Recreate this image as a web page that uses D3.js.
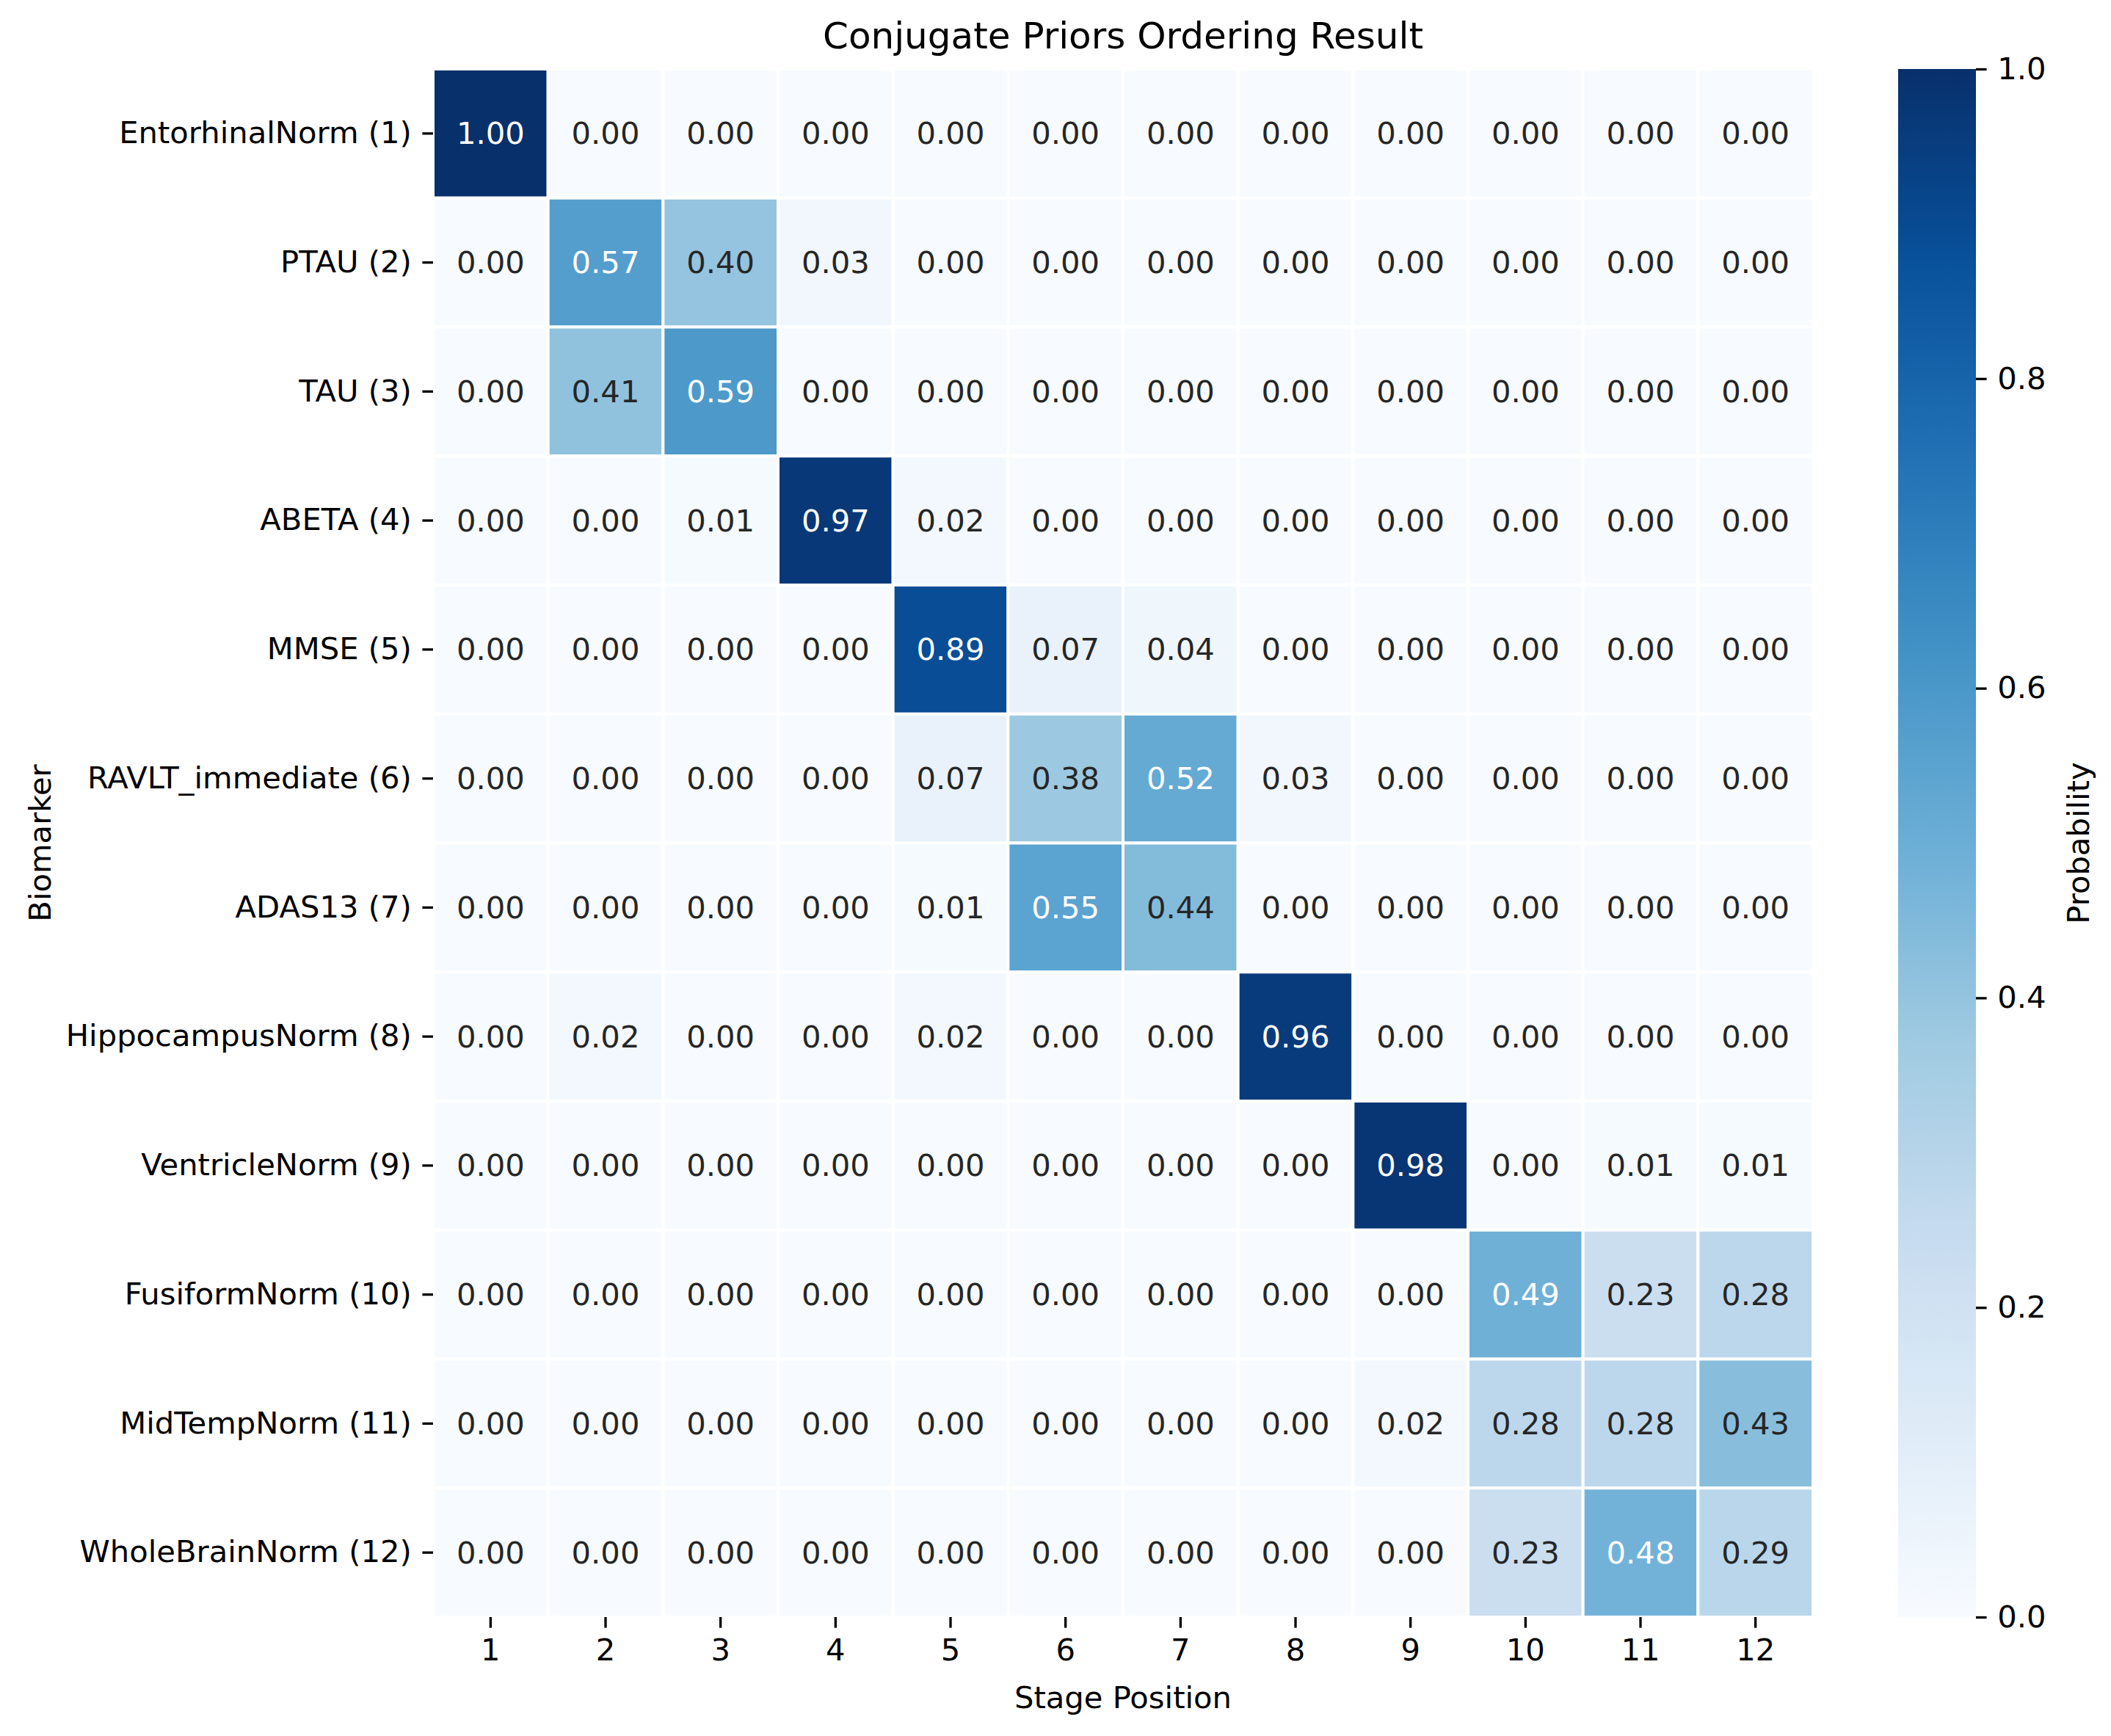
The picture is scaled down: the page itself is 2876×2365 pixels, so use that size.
<!DOCTYPE html>
<html><head><meta charset="utf-8">
<script src="https://cdn.jsdelivr.net/npm/d3@7"></script>
<style>body{margin:0;background:#fff}</style>
</head><body>
<script>
const biomarkers = ["EntorhinalNorm (1)","PTAU (2)","TAU (3)","ABETA (4)","MMSE (5)","RAVLT_immediate (6)","ADAS13 (7)","HippocampusNorm (8)","VentricleNorm (9)","FusiformNorm (10)","MidTempNorm (11)","WholeBrainNorm (12)"];
const stages = ["1","2","3","4","5","6","7","8","9","10","11","12"];
const row1  = [1.00,0,0,0,0,0,0,0,0,0,0,0];
const row2  = [0,0.57,0.40,0.03,0,0,0,0,0,0,0,0];
const row3  = [0,0.41,0.59,0,0,0,0,0,0,0,0,0];
const row4  = [0,0,0.01,0.97,0.02,0,0,0,0,0,0,0];
const row5  = [0,0,0,0,0.89,0.07,0.04,0,0,0,0,0];
const row6  = [0,0,0,0,0.07,0.38,0.52,0.03,0,0,0,0];
const row7  = [0,0,0,0,0.01,0.55,0.44,0,0,0,0,0];
const row8  = [0,0.02,0,0,0.02,0,0,0.96,0,0,0,0];
const row9  = [0,0,0,0,0,0,0,0,0.98,0,0.01,0.01];
const row10 = [0,0,0,0,0,0,0,0,0,0.49,0.23,0.28];
const row11 = [0,0,0,0,0,0,0,0,0.02,0.28,0.28,0.43];
const row12 = [0,0,0,0,0,0,0,0,0,0.23,0.48,0.29];
const colorbarTicks = [0,0.2,0.4,0.6,0.8,1.0];
const rows = [row1,row2,row3,row4,row5,row6,row7,row8,row9,row10,row11,row12];

const W = 2876, H = 2365;
const L = 590, R = 2470, T = 94, B = 2203;
const cbL = 2586, cbR = 2692;
const font = "DejaVu Sans, sans-serif";
const fs = 41.7;
const tick = 14.6;

const svg = d3.select("body").append("svg").attr("width", W).attr("height", H)
  .style("font-family", font);

const blues = ["#f7fbff","#deebf7","#c6dbef","#9ecae1","#6baed6","#4292c6","#2171b5","#08519c","#08306b"];
const color = d3.scaleLinear().domain(d3.range(9).map(i => i/8)).range(blues).interpolate(d3.interpolateRgb).clamp(true);

const x = d3.scaleBand().domain(stages).range([L, R]);
const y = d3.scaleBand().domain(biomarkers).range([T, B]);

const cells = [];
rows.forEach((r, i) => r.forEach((v, j) => cells.push({b: biomarkers[i], s: stages[j], v})));

function lum(c) {
  const rgb = d3.rgb(c);
  const f = u => { u /= 255; return u <= 0.03928 ? u/12.92 : Math.pow((u+0.055)/1.055, 2.4); };
  return 0.2126*f(rgb.r) + 0.7152*f(rgb.g) + 0.0722*f(rgb.b);
}

const g = svg.append("g");
g.selectAll("rect.cell").data(cells).join("rect")
  .attr("class","cell")
  .attr("x", d => x(d.s)).attr("y", d => y(d.b))
  .attr("width", x.bandwidth()).attr("height", y.bandwidth())
  .attr("fill", d => color(d.v))
  .attr("stroke", "#fff").attr("stroke-width", 4);

g.selectAll("text.ann").data(cells).join("text")
  .attr("class","ann")
  .attr("x", d => x(d.s) + x.bandwidth()/2)
  .attr("y", d => y(d.b) + y.bandwidth()/2)
  .attr("text-anchor","middle").attr("dominant-baseline","central")
  .attr("font-size", fs)
  .attr("fill", d => lum(color(d.v)) > 0.408 ? "#262626" : "#ffffff")
  .text(d => d.v.toFixed(2));

// x axis
const xAxis = svg.append("g").attr("transform", `translate(0,${B})`)
  .call(d3.axisBottom(x).tickSize(tick).tickPadding(tick));
xAxis.select(".domain").remove();
xAxis.selectAll(".tick line").attr("stroke","#000").attr("stroke-width",3.3);
xAxis.selectAll(".tick text").attr("font-size", fs).attr("font-family", font).attr("fill","#000");

// y axis
const yAxis = svg.append("g").attr("transform", `translate(${L},0)`)
  .call(d3.axisLeft(y).tickSize(tick).tickPadding(tick));
yAxis.select(".domain").remove();
yAxis.selectAll(".tick line").attr("stroke","#000").attr("stroke-width",3.3);
yAxis.selectAll(".tick text").attr("font-size", fs).attr("font-family", font).attr("fill","#000");

// labels
svg.append("text").attr("x", (L+R)/2).attr("y", 2327).attr("text-anchor","middle")
  .attr("font-size", fs).attr("fill","#000").text("Stage Position");
svg.append("text").attr("transform", `translate(69,${(T+B)/2}) rotate(-90)`).attr("text-anchor","middle")
  .attr("font-size", fs).attr("fill","#000").text("Biomarker");
svg.append("text").attr("x", (L+R)/2).attr("y", 66).attr("text-anchor","middle")
  .attr("font-size", 50).attr("fill","#000").text("Conjugate Priors Ordering Result");

// colorbar
const cy = d3.scaleLinear().domain([0,1]).range([B, T]);
const defs = svg.append("defs");
const grad = defs.append("linearGradient").attr("id","cbg").attr("x1",0).attr("y1",1).attr("x2",0).attr("y2",0);
d3.range(0, 1.0001, 0.02).forEach(t => grad.append("stop").attr("offset", t).attr("stop-color", color(t)));
svg.append("rect").attr("x", cbL).attr("y", T).attr("width", cbR-cbL).attr("height", B-T).attr("fill","url(#cbg)");
const cAxis = svg.append("g").attr("transform", `translate(${cbR},0)`)
  .call(d3.axisRight(cy).tickValues(colorbarTicks).tickFormat(d3.format(".1f")).tickSize(tick).tickPadding(tick));
cAxis.select(".domain").remove();
cAxis.selectAll(".tick line").attr("stroke","#000").attr("stroke-width",3.3);
cAxis.selectAll(".tick text").attr("font-size", fs).attr("font-family", font).attr("fill","#000");
svg.append("text").attr("transform", `translate(2846,${(T+B)/2}) rotate(-90)`).attr("text-anchor","middle")
  .attr("font-size", fs).attr("fill","#000").text("Probability");
</script>
</body></html>
